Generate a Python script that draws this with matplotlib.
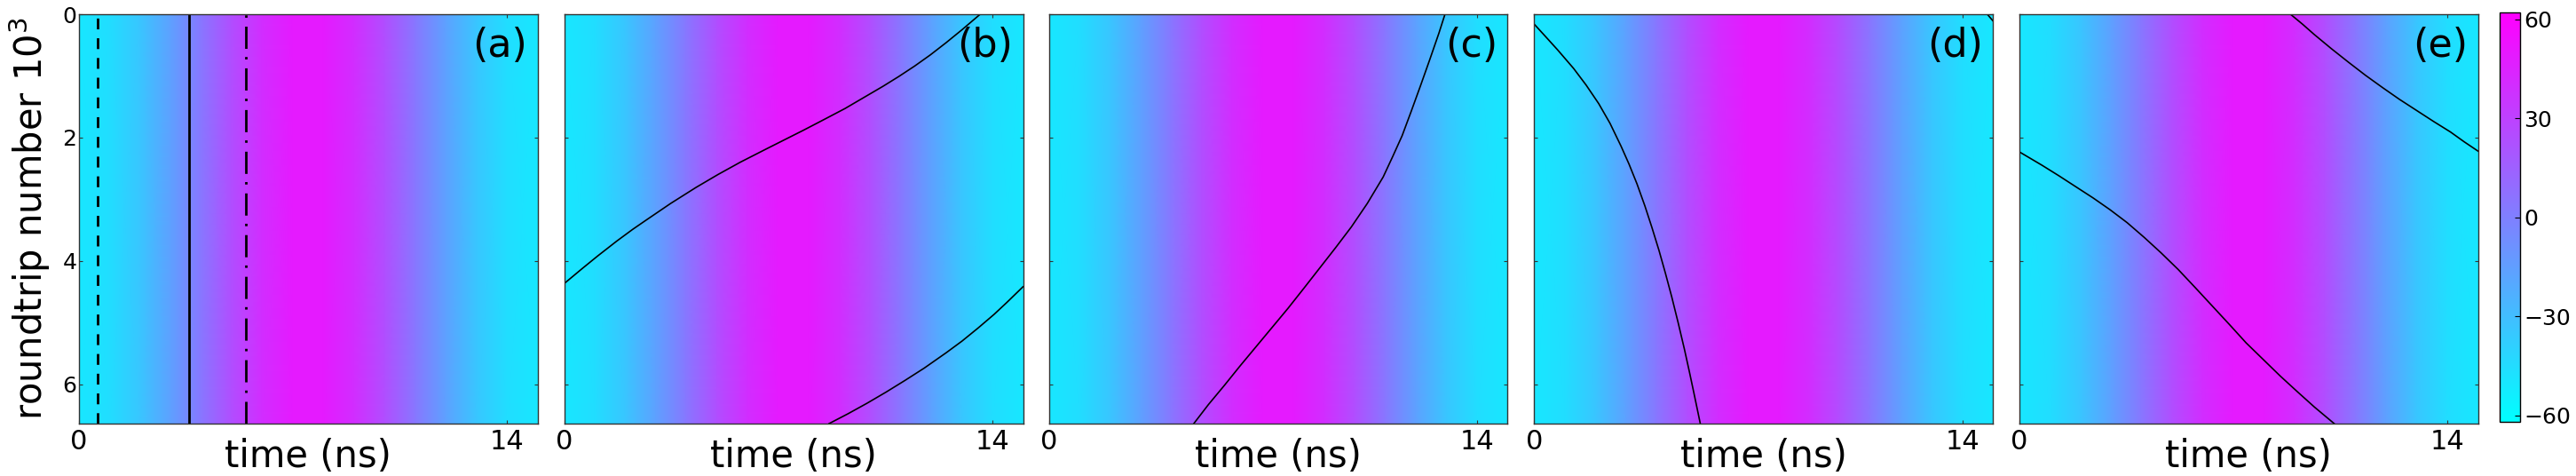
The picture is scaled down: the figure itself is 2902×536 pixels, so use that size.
import numpy as np
import matplotlib.pyplot as plt

W, H = 2902, 536

# field profile across the time window (same on every roundtrip)
profile_t = [0, 1, 2, 3, 4, 5, 6, 7, 8, 9, 10, 11, 12, 13, 14, 15]
profile_v = [-50, -46, -34, -16, 4, 24, 40, 49, 49, 40, 24, 4, -16, -34, -46, -50]
t_max = 15.0
r_max = 6.64

# panel (a): fixed positions
a_dashed = 0.62
a_solid = 3.62
a_dashdot = 5.47

# panel (b)
b1_t = [0, 0.58, 1.10, 1.72, 2.24, 2.65, 3.48, 4.31, 5.03, 5.76, 6.59, 7.31,
        7.83, 8.45, 9.18, 9.80, 10.42, 10.94, 11.46, 11.97, 12.49, 13.01, 13.60]
b1_r = [4.37, 4.13, 3.92, 3.68, 3.49, 3.35, 3.07, 2.81, 2.60, 2.40, 2.19, 2.01,
        1.88, 1.72, 1.53, 1.35, 1.17, 1.01, 0.84, 0.66, 0.46, 0.25, 0.0]
b2_t = [8.66, 9.28, 9.90, 10.52, 11.14, 11.77, 12.49, 13.01, 13.53, 14.05, 14.46, 15.0]
b2_r = [6.64, 6.48, 6.31, 6.13, 5.94, 5.74, 5.49, 5.30, 5.09, 4.87, 4.68, 4.42]

# panel (c)
c_t = [4.74, 5.22, 5.74, 6.26, 6.78, 7.30, 7.82, 8.33, 8.85, 9.37, 9.89, 10.41,
       10.93, 11.24, 11.55, 11.85, 12.15, 12.45, 12.75, 12.95]
c_r = [6.64, 6.33, 6.02, 5.70, 5.39, 5.08, 4.77, 4.45, 4.12, 3.79, 3.45, 3.07,
       2.64, 2.31, 1.97, 1.57, 1.16, 0.74, 0.31, 0.0]

# panel (d)
d1_t = [0, 0.35, 0.77, 1.29, 1.70, 2.11, 2.48, 2.84, 3.10, 3.36, 3.62, 3.85,
        4.08, 4.29, 4.50, 4.71, 4.91, 5.07, 5.22, 5.38, 5.43]
d1_r = [0.16, 0.35, 0.58, 0.88, 1.15, 1.45, 1.77, 2.14, 2.43, 2.75, 3.11, 3.46,
        3.83, 4.20, 4.59, 5.01, 5.43, 5.79, 6.14, 6.52, 6.64]
d2_t = [14.81, 15.0]
d2_r = [0.0, 0.11]

# panel (e)
e1_t = [0, 0.75, 1.30, 1.86, 2.42, 2.97, 3.53, 4.09, 4.64, 5.20, 5.75, 6.31,
        6.87, 7.42, 7.98, 8.54, 9.09, 9.65, 10.30]
e1_r = [2.23, 2.45, 2.62, 2.80, 2.98, 3.17, 3.38, 3.62, 3.87, 4.14, 4.43, 4.73,
        5.03, 5.33, 5.60, 5.87, 6.12, 6.37, 6.64]
e2_t = [8.87, 9.26, 9.65, 10.21, 10.77, 11.32, 11.88, 12.43, 12.99, 13.55, 14.10, 14.55, 15.0]
e2_r = [0.0, 0.16, 0.33, 0.56, 0.78, 0.99, 1.19, 1.38, 1.56, 1.74, 1.91, 2.07, 2.22]

labels = ['(a)', '(b)', '(c)', '(d)', '(e)']
curves = [
    [],
    [(b1_t, b1_r), (b2_t, b2_r)],
    [(c_t, c_r)],
    [(d1_t, d1_r), (d2_t, d2_r)],
    [(e1_t, e1_r), (e2_t, e2_r)],
]

fig = plt.figure(figsize=(W / 100, H / 100), dpi=100)

lefts = [88.6, 635.5, 1181.5, 1728.3, 2274.6]
T, R = np.meshgrid(profile_t, [0, r_max])
C = np.vstack([profile_v, profile_v])

for i, left in enumerate(lefts):
    ax = fig.add_axes([left / W, (H - 477) / H, 517 / W, 461 / H])
    mesh = ax.pcolormesh(T, R, C, shading='gouraud', cmap='cool', vmin=-62, vmax=62)
    if i == 0:
        ax.axvline(a_dashed, color='k', lw=2, linestyle=(0, (4.4, 3.6)))
        ax.axvline(a_solid, color='k', lw=2)
        ax.axvline(a_dashdot, color='k', lw=2, linestyle=(0, (9, 3.6, 1, 3.3)))
    for tt, rr in curves[i]:
        ax.plot(tt, rr, color='k', lw=1.2, solid_joinstyle='round')
    ax.set_xlim(0, t_max)
    ax.set_ylim(r_max, 0)
    ax.set_xticks([0, 14])
    ax.set_yticks([0, 2, 4, 6])
    ax.tick_params(direction='in', top=True, right=True, length=3, width=0.8, color='#333333')
    ax.tick_params(axis='x', labelsize=22, pad=4)
    ax.tick_params(axis='y', labelsize=18, pad=1.5)
    for s in ax.spines.values():
        s.set_color('#333333')
        s.set_linewidth(1)
    if i > 0:
        ax.tick_params(labelleft=False)
    else:
        ax.set_ylabel('roundtrip number 10$^3$', fontsize=30)
        ax.yaxis.set_label_coords(-0.057, 0.5)
    ax.set_xlabel('time (ns)', fontsize=30)
    ax.xaxis.set_label_coords(0.5, -0.035)
    ax.text(0.978, 0.922, labels[i], transform=ax.transAxes, ha='right', va='center', fontsize=32)

cax = fig.add_axes([2816.3 / W, (H - 475.3) / H, 23 / W, (475.3 - 14.4) / H])
cb = fig.colorbar(mesh, cax=cax, ticks=[-60, -30, 0, 30, 60])
cb.outline.set_linewidth(1)
cax.tick_params(direction='in', length=4, width=0.8, labelsize=18, pad=3)

fig.savefig('out.png', dpi=100)
